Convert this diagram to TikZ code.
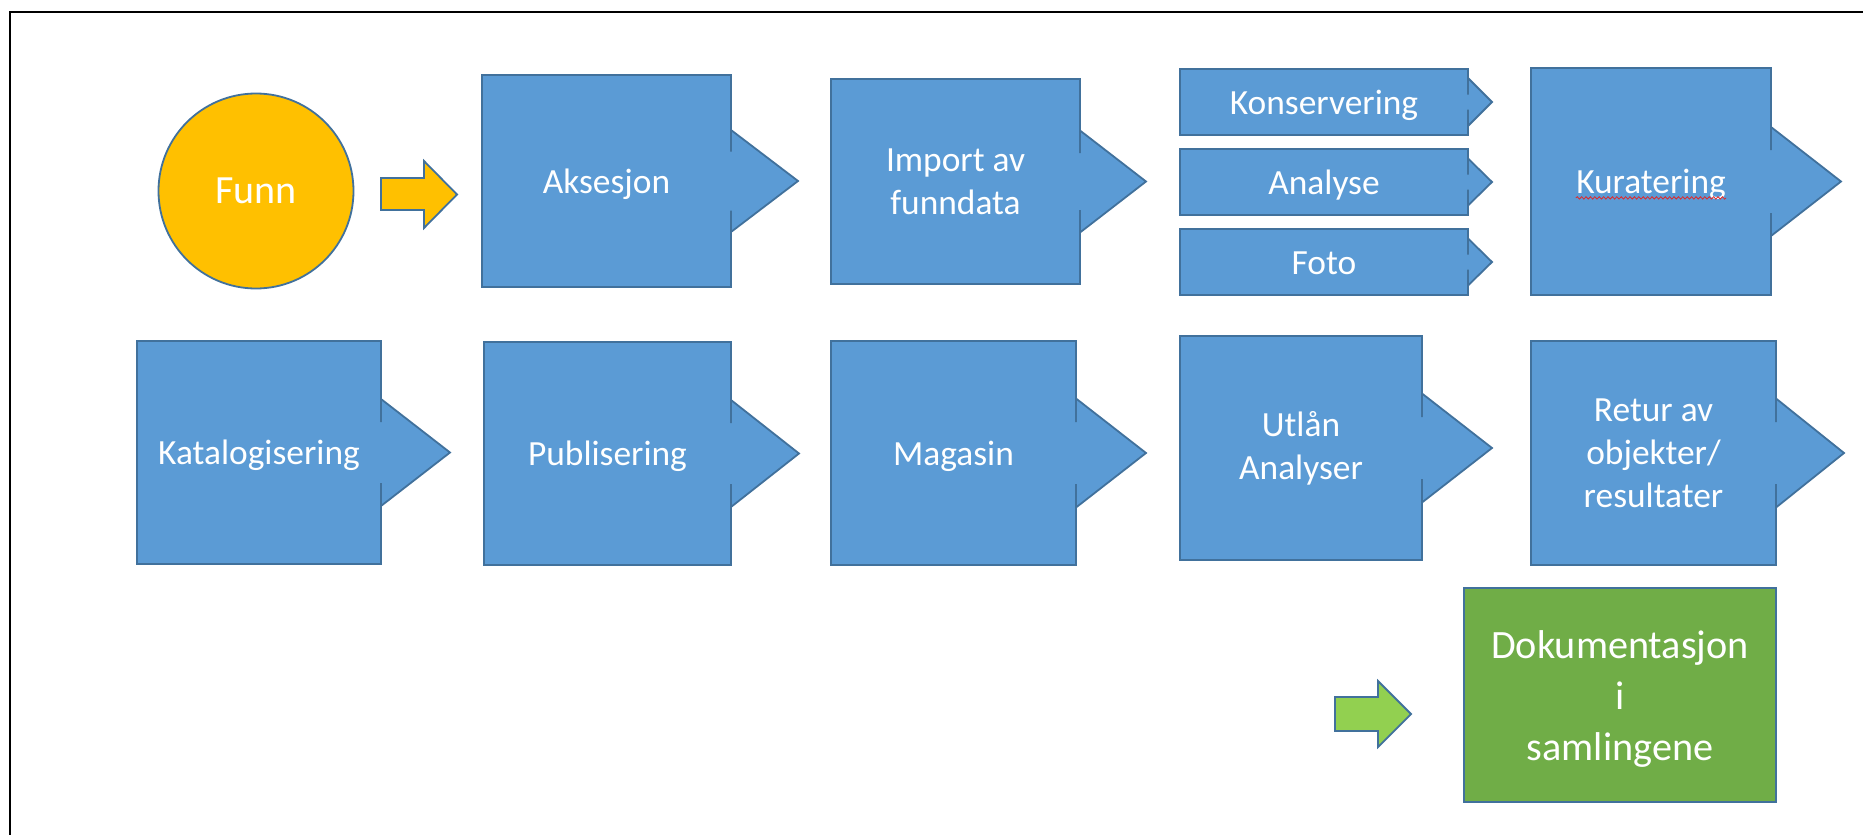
\documentclass[tikz,border=0pt]{standalone}
\usepackage{fontspec}
\setmainfont{Carlito}
\usetikzlibrary{decorations.pathmorphing}
\definecolor{pfill}{HTML}{5B9BD5}
\definecolor{pline}{HTML}{41719C}
\definecolor{funnfill}{HTML}{FFC000}
\definecolor{gboxfill}{HTML}{70AD47}
\definecolor{garrowfill}{HTML}{92D050}
\definecolor{spellred}{HTML}{E02828}
% #1 x0, #2 y0, #3 x1, #4 y1, #5 tip x, #6 head half height, #7 neck half height
\newcommand\procshape[7]{%
  \draw[proc] (#1,#2) -- (#3,#2) -- (#3,{(#2+#4)/2-#7}) -- (#3,{(#2+#4)/2-#6})
    -- (#5,{(#2+#4)/2}) -- (#3,{(#2+#4)/2+#6}) -- (#3,{(#2+#4)/2+#7})
    -- (#3,#4) -- (#1,#4) -- cycle;%
}
\begin{document}
\begin{tikzpicture}[x=0.5pt,y=-0.5pt,
  proc/.style={fill=pfill,draw=pline,line width=0.9pt,line join=miter},
  proctext/.style={text=white,align=center,inner sep=0pt,
    font=\fontsize{17.7pt}{21.5pt}\selectfont},
  oneline/.style={proctext,anchor=base},
  blockarrow/.style={draw=pline,line width=0.9pt,line join=miter},
  frameline/.style={draw=black,line width=1pt},
  squiggle/.style={draw=spellred,line width=0.4pt,
    decorate,decoration={snake,amplitude=0.6pt,segment length=2.2pt}}]
\useasboundingbox (0,0) rectangle (1863,835);
\fill[white] (0,0) rectangle (1863,835);
\coordinate (fbl) at (10,835);
\coordinate (ftl) at (10,12);
\coordinate (ftr) at (1863,12);
\draw[frameline] (fbl) -- (ftl) -- (ftr);

% Funn
\node[circle,fill=funnfill,draw=pline,line width=0.9pt,inner sep=0pt,
  minimum size=97.5pt] (funn) at (256,191) {};
\node[text=white,font=\fontsize{20pt}{24pt}\selectfont,inner sep=0pt,anchor=base]
  (funntext) at (256,203) {Funn};

% orange block arrow
\draw[blockarrow,fill=funnfill] (381,178) -- (424,178) -- (424,161) -- (457,194.5)
  -- (424,228) -- (424,210) -- (381,210) -- cycle;

% row 1
\procshape{482}{75}{731}{287}{798}{51}{29.5}
\node[oneline] (aks) at (606.5,193) {Aksesjon};
\procshape{831}{79}{1080}{284}{1146}{51}{28.5}
\node[proctext] (imp) at (955.5,181.5) {Import av\\funndata};
\procshape{1180}{69}{1468}{135}{1492}{24}{7.5}
\node[oneline] (kons) at (1324,114) {Konservering};
\procshape{1180}{149}{1468}{215}{1492}{23.5}{7.5}
\node[oneline] (anal) at (1324,194) {Analyse};
\procshape{1180}{229}{1468}{295}{1492}{23.5}{7.5}
\node[oneline] (foto) at (1324,274) {Foto};
\procshape{1531}{68}{1771}{295}{1841}{54.5}{31.5}
\node[oneline] (kur) at (1651,193.5) {Kuratering};
\draw[squiggle] ([yshift=-2.2pt]kur.base west) -- ([yshift=-2.2pt]kur.base east);

% row 2
\procshape{137}{341}{381}{564}{450}{53.5}{30.5}
\node[oneline] (kat) at (259,464.5) {Katalogisering};
\procshape{484}{342}{731}{565}{799}{53.5}{30.5}
\node[oneline] (pub) at (607.5,465.5) {Publisering};
\procshape{831}{341}{1076}{565}{1146}{54.5}{31}
\node[oneline] (mag) at (953.5,465) {Magasin};
\procshape{1180}{336}{1422}{560}{1492}{54.5}{31}
\node[proctext] (utl) at (1301,448) {Utlån\\Analyser};
\procshape{1531}{341}{1776}{565}{1844}{54.5}{31}
\node[proctext] (ret) at (1653.5,453) {Retur av\\objekter/\\resultater};

% green arrow
\draw[blockarrow,fill=garrowfill] (1335,697) -- (1378,697) -- (1378,681) -- (1411,714)
  -- (1378,747) -- (1378,731) -- (1335,731) -- cycle;

% documentation box
\node[rectangle,fill=gboxfill,draw=pline,line width=0.9pt,minimum width=156pt,
  minimum height=107pt,inner sep=0pt] (dok) at (1620,695) {};
\node[text=white,align=center,inner sep=0pt,
  font=\fontsize{20.1pt}{25.5pt}\selectfont] (doktext) at (1620,699)
  {Dokumentasjon\\i\\samlingene};
\end{tikzpicture}
\end{document}
